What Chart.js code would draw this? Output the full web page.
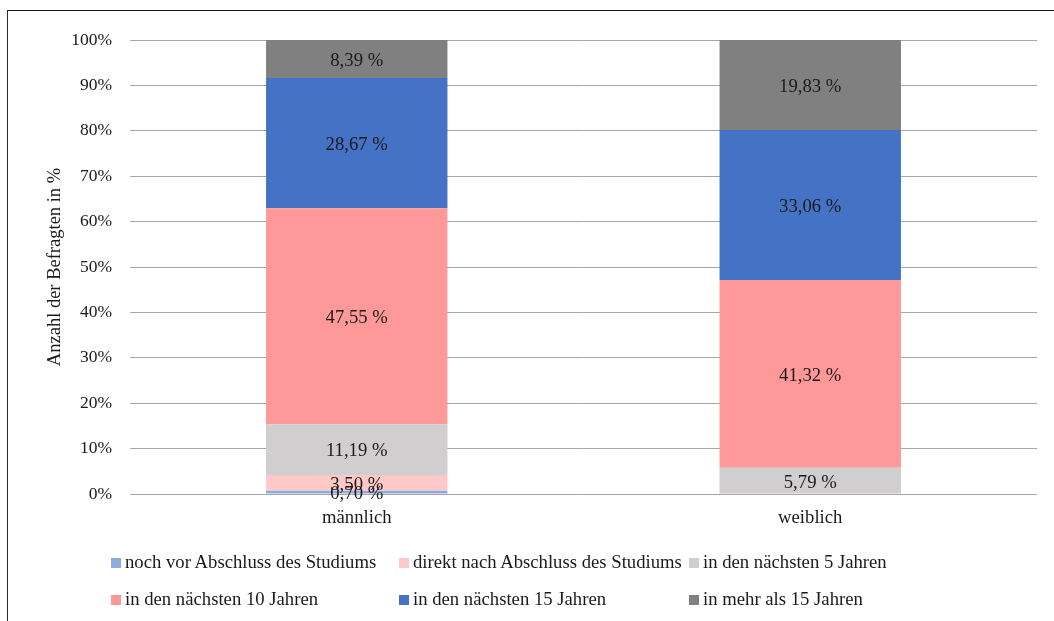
<!DOCTYPE html>
<html>
<head>
<meta charset="utf-8">
<script src="https://cdn.jsdelivr.net/npm/chart.js@4/dist/chart.umd.min.js"></script>
<style>
  body { margin: 0; background: #fff; overflow: hidden; }
  #wrap { position: relative; width: 1054px; height: 621px; overflow: hidden; }
  #frame { position: absolute; left: 7px; top: 10px; width: 1100px; height: 700px;
    border-left: 1px solid #2b2b2b; border-top: 1px solid #1a1a1a; }
  canvas { position: absolute; left: 0; top: 0; }
  .leg { position: absolute; font: 18.7px "Liberation Serif", "Times New Roman", serif; color: #1a1a1a;
    white-space: nowrap; line-height: 20px; }
  .leg i { display: inline-block; width: 10px; height: 10px; margin-right: 4px; vertical-align: 0px; }
</style>
</head>
<body>
<div id="wrap">
  <div id="frame"></div>
  <canvas id="chart" width="1054" height="621"></canvas>
  <div id="legend"></div>
</div>
<script>
const categories = ['männlich', 'weiblich'];
const seriesNames = [
  'noch vor Abschluss des Studiums',
  'direkt nach Abschluss des Studiums',
  'in den nächsten 5 Jahren',
  'in den nächsten 10 Jahren',
  'in den nächsten 15 Jahren',
  'in mehr als 15 Jahren'
];
const nochVorAbschluss = [0.70, 0];
const direktNachAbschluss = [3.50, 0];
const naechste5 = [11.19, 5.79];
const naechste10 = [47.55, 41.32];
const naechste15 = [28.67, 33.06];
const mehrAls15 = [8.39, 19.83];
const yTicks = [0, 10, 20, 30, 40, 50, 60, 70, 80, 90, 100];

const seriesValues = [nochVorAbschluss, direktNachAbschluss, naechste5, naechste10, naechste15, mehrAls15];
const colors = ['#8faadc', '#ffc9c9', '#d0cece', '#ff9999', '#4472c4', '#808080'];
const serif = '"Liberation Serif", "Times New Roman", serif';

// labels in the middle of each segment, German decimal comma
const segmentLabels = {
  id: 'segmentLabels',
  afterDatasetsDraw(chart) {
    const ctx = chart.ctx;
    ctx.save();
    ctx.font = '18.7px ' + serif;
    ctx.fillStyle = '#1a1a1a';
    ctx.textAlign = 'center';
    ctx.textBaseline = 'middle';
    chart.data.datasets.forEach((ds, i) => {
      chart.getDatasetMeta(i).data.forEach((bar, j) => {
        const v = ds.data[j];
        if (!v) return;
        const text = v.toFixed(2).replace('.', ',') + ' %';
        // serif text sits a little high with 'middle', nudge it down
        ctx.fillText(text, bar.x, (bar.y + bar.base) / 2 + 2);
      });
    });
    ctx.restore();
  }
};

const chart = new Chart(document.getElementById('chart'), {
  type: 'bar',
  data: {
    labels: categories,
    datasets: seriesNames.map((name, i) => ({
      label: name,
      data: seriesValues[i],
      backgroundColor: colors[i],
      borderWidth: 0,
      categoryPercentage: 0.4,
      barPercentage: 1
    }))
  },
  options: {
    responsive: false,
    animation: false,
    devicePixelRatio: 1,
    layout: { padding: { left: 0, right: 17, top: 40, bottom: 0 } },
    plugins: { legend: { display: false }, tooltip: { enabled: false } },
    scales: {
      x: {
        stacked: true,
        grid: { display: false },
        border: { display: false },
        ticks: { color: '#1a1a1a', font: { family: serif, size: 18.7 }, padding: 5 },
        afterFit(scale) { scale.height = 127; }
      },
      y: {
        stacked: true,
        min: 0,
        max: 100,
        afterBuildTicks(scale) { scale.ticks = yTicks.map(v => ({ value: v })); },
        grid: { color: '#a6a6a6', lineWidth: 1, drawTicks: false },
        border: { display: false },
        ticks: {
          color: '#1a1a1a',
          font: { family: serif, size: 17.5 },
          padding: 18,
          callback: v => v + '%'
        },
        title: {
          display: true,
          text: 'Anzahl der Befragten in %',
          color: '#1a1a1a',
          font: { family: serif, size: 18.5 },
          padding: { top: 44, bottom: 0 }
        },
        afterFit(scale) { scale.width = 130; }
      }
    }
  },
  plugins: [segmentLabels]
});

// legend laid out in three columns like the original
const legendCols = [111, 399, 689];
const legendRows = [562, 599];
const legendBox = document.getElementById('legend');
chart.data.datasets.forEach((ds, i) => {
  const el = document.createElement('div');
  el.className = 'leg';
  el.style.left = legendCols[i % 3] + 'px';
  el.style.top = (legendRows[Math.floor(i / 3)] - 10) + 'px';
  el.innerHTML = '<i style="background:' + ds.backgroundColor + '"></i>' + ds.label;
  legendBox.appendChild(el);
});
</script>
</body>
</html>
